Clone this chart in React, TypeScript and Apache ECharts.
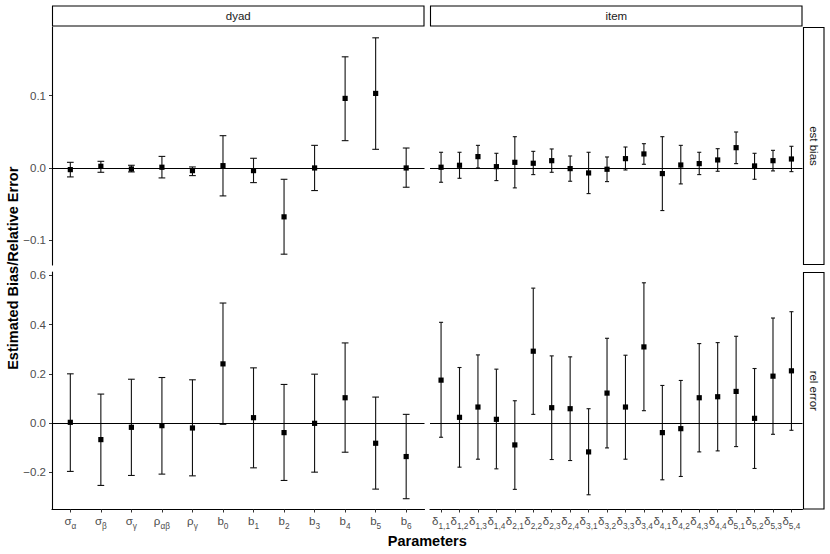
import React, { useEffect, useRef } from "react";
import * as echarts from "echarts";

// ---------- data ----------
const facetCols = ["dyad", "item"];
const facetRows = ["est bias", "rel error"];

const dyadLabels: [string, string][] = [
  ["σ", "α"], ["σ", "β"], ["σ", "γ"], ["ρ", "αβ"], ["ρ", "γ"],
  ["b", "0"], ["b", "1"], ["b", "2"], ["b", "3"], ["b", "4"], ["b", "5"], ["b", "6"],
];
const itemLabels: [string, string][] = [
  ["δ", "1,1"], ["δ", "1,2"], ["δ", "1,3"], ["δ", "1,4"],
  ["δ", "2,1"], ["δ", "2,2"], ["δ", "2,3"], ["δ", "2,4"],
  ["δ", "3,1"], ["δ", "3,2"], ["δ", "3,3"], ["δ", "3,4"],
  ["δ", "4,1"], ["δ", "4,2"], ["δ", "4,3"], ["δ", "4,4"],
  ["δ", "5,1"], ["δ", "5,2"], ["δ", "5,3"], ["δ", "5,4"],
];

// est bias, dyad
const dyadBiasEst = [-0.0023, 0.0023, -0.0014, 0.001, -0.0037, 0.0032, -0.0037, -0.0677, 0.0, 0.0963, 0.1032, 0.0];
const dyadBiasLo = [-0.0124, -0.006, -0.0055, -0.0138, -0.0106, -0.0387, -0.0203, -0.1194, -0.0313, 0.0378, 0.0258, -0.0267];
const dyadBiasHi = [0.0078, 0.0092, 0.0037, 0.016, 0.0014, 0.0447, 0.0134, -0.0157, 0.0313, 0.1539, 0.1802, 0.0276];

// est bias, item
const itemBiasEst = [0.001, 0.0037, 0.0157, 0.0018, 0.0078, 0.0065, 0.0101, -0.0009, -0.0069, -0.0018, 0.0129, 0.0194, -0.0078, 0.0041, 0.006, 0.0111, 0.0281, 0.0028, 0.0101, 0.0124];
const itemBiasLo = [-0.0198, -0.0143, 0.0, -0.0175, -0.0276, -0.0092, -0.006, -0.0184, -0.0355, -0.0189, -0.0028, 0.0051, -0.059, -0.0221, -0.0092, -0.0046, 0.006, -0.0157, -0.0041, -0.0051];
const itemBiasHi = [0.0217, 0.0217, 0.0313, 0.0203, 0.0433, 0.023, 0.0263, 0.0166, 0.0217, 0.0152, 0.029, 0.0336, 0.0433, 0.0313, 0.0217, 0.0267, 0.0498, 0.0203, 0.0244, 0.03];

// rel error, dyad
const dyadRelEst = [0.0027, -0.0676, -0.0176, -0.0108, -0.0203, 0.2405, 0.0216, -0.0392, -0.0014, 0.1027, -0.0824, -0.1365];
const dyadRelLo = [-0.197, -0.254, -0.2135, -0.208, -0.215, -0.0054, -0.1824, -0.2338, -0.2, -0.1189, -0.269, -0.308];
const dyadRelHi = [0.2, 0.1176, 0.178, 0.185, 0.1757, 0.488, 0.2243, 0.1568, 0.1986, 0.3257, 0.1054, 0.0351];

// rel error, item
const itemRelEst = [0.1743, 0.023, 0.0649, 0.0149, -0.0892, 0.292, 0.0622, 0.0581, -0.1176, 0.1216, 0.0649, 0.3095, -0.0392, -0.023, 0.1027, 0.1068, 0.1284, 0.0189, 0.1905, 0.2122];
const itemRelLo = [-0.058, -0.1797, -0.1473, -0.1865, -0.27, 0.0351, -0.1486, -0.1527, -0.292, -0.1014, -0.1473, 0.05, -0.2311, -0.2176, -0.1176, -0.1135, -0.096, -0.185, -0.046, -0.0297];
const itemRelHi = [0.4095, 0.2257, 0.277, 0.219, 0.0905, 0.5486, 0.273, 0.269, 0.0581, 0.3446, 0.2757, 0.5703, 0.1527, 0.173, 0.323, 0.327, 0.3527, 0.2216, 0.427, 0.4527];

const biasTicks = [-0.1, 0, 0.1];
const relTicks = [-0.2, 0, 0.2, 0.4, 0.6];

const yTitle = "Estimated Bias/Relative Error";
const xTitle = "Parameters";

// ---------- layout ----------
const W = 830;
const H = 554;
const colLeft = [52, 430];
const panelW = 372.5;
const rowTop = [27, 272];
const rowH = [238, 237.5];
const stripTop = 6;
const stripH = 20;
const stripRightX = 803.5;
const stripRightW = 20.5;

const FONT = "'Liberation Sans', Arial, Helvetica, sans-serif";
const TICK_COLOR = "#4d4d4d";

function fmtY(v: number) {
  const s = Math.abs(v).toFixed(1);
  return v < -1e-9 ? "\u2212" + s : s;
}

function expandRange(los: number[], his: number[]): [number, number] {
  const lo = Math.min(...los);
  const hi = Math.max(...his);
  const pad = (hi - lo) * 0.05;
  return [lo - pad, hi + pad];
}

export default function App() {
  const ref = useRef<HTMLDivElement>(null);

  useEffect(() => {
    if (!ref.current) return;
    const chart = echarts.init(ref.current, undefined, { renderer: "svg" });

    const labelsByCol = [dyadLabels, itemLabels];
    const panelData = [
      [
        { est: dyadBiasEst, lo: dyadBiasLo, hi: dyadBiasHi },
        { est: itemBiasEst, lo: itemBiasLo, hi: itemBiasHi },
      ],
      [
        { est: dyadRelEst, lo: dyadRelLo, hi: dyadRelHi },
        { est: itemRelEst, lo: itemRelLo, hi: itemRelHi },
      ],
    ];
    const yRanges = [
      expandRange([...dyadBiasLo, ...itemBiasLo], [...dyadBiasHi, ...itemBiasHi]),
      expandRange([...dyadRelLo, ...itemRelLo], [...dyadRelHi, ...itemRelHi]),
    ];
    const yTicks = [biasTicks, relTicks];

    const grids: any[] = [];
    const xAxes: any[] = [];
    const yAxes: any[] = [];
    const series: any[] = [];

    for (let r = 0; r < 2; r++) {
      for (let c = 0; c < 2; c++) {
        const idx = grids.length;
        const labels = labelsByCol[c];
        const n = labels.length;
        grids.push({ left: colLeft[c], top: rowTop[r], width: panelW, height: rowH[r], containLabel: false });
        const showX = r === 1;
        const showY = c === 0;
        xAxes.push({
          type: "value",
          gridIndex: idx,
          min: -0.6,
          max: n - 1 + 0.6,
          splitLine: { show: false },
          axisLine: { show: showX, onZero: false, lineStyle: { color: "#000", width: 1.1 } },
          axisTick: {
            show: showX,
            length: 3,
            customValues: labels.map((_, i) => i),
            lineStyle: { color: "#333", width: 1 },
          },
          axisLabel: {
            show: showX,
            margin: 5,
            customValues: labels.map((_, i) => i),
            formatter: (v: number) => {
              const l = labels[Math.round(v)];
              return l ? `{m|${l[0]}}{s|${l[1]}}` : "";
            },
            rich: {
              m: { fontSize: 11.5, fontFamily: FONT, color: TICK_COLOR, verticalAlign: "bottom", padding: [0, 0, 3, 0] },
              s: { fontSize: 8.3, fontFamily: FONT, color: TICK_COLOR, verticalAlign: "bottom" },
            },
          },
        });
        yAxes.push({
          type: "value",
          gridIndex: idx,
          min: yRanges[r][0],
          max: yRanges[r][1],
          splitLine: { show: false },
          axisLine: { show: showY, onZero: false, lineStyle: { color: "#000", width: 1.1 } },
          axisTick: {
            show: showY,
            length: 3,
            customValues: yTicks[r],
            lineStyle: { color: "#333", width: 1 },
          },
          axisLabel: {
            show: showY,
            margin: 6,
            customValues: yTicks[r],
            formatter: (v: number) => fmtY(v),
            fontSize: 11.5,
            fontFamily: FONT,
            color: TICK_COLOR,
          },
        });
        const d = panelData[r][c];
        series.push({
          type: "custom",
          xAxisIndex: idx,
          yAxisIndex: idx,
          data: d.est.map((e, i) => [i, e, d.lo[i], d.hi[i]]),
          encode: { x: 0, y: [1, 2, 3] },
          renderItem: (params: any, api: any) => {
            const x = api.value(0);
            const pE = api.coord([x, api.value(1)]);
            const pL = api.coord([x, api.value(2)]);
            const pH = api.coord([x, api.value(3)]);
            const hw = api.size([0.11, 0])[0];
            const ls = { stroke: "#111", lineWidth: 1.1 };
            return {
              type: "group",
              children: [
                { type: "line", shape: { x1: pL[0], y1: pL[1], x2: pH[0], y2: pH[1] }, style: ls },
                { type: "line", shape: { x1: pL[0] - hw, y1: pL[1], x2: pL[0] + hw, y2: pL[1] }, style: ls },
                { type: "line", shape: { x1: pH[0] - hw, y1: pH[1], x2: pH[0] + hw, y2: pH[1] }, style: ls },
                { type: "rect", shape: { x: pE[0] - 2.6, y: pE[1] - 2.6, width: 5.2, height: 5.2 }, style: { fill: "#000" } },
              ],
            };
          },
          markLine: {
            silent: true,
            symbol: ["none", "none"],
            label: { show: false },
            lineStyle: { color: "#000", width: 1.1, type: "solid" },
            data: [{ yAxis: 0 }],
          },
        });
      }
    }

    const textStyle = (text: string, size: number, color: string, weight: any = "normal") => ({
      text,
      x: 0,
      y: 0,
      fontSize: size,
      fontFamily: FONT,
      fontWeight: weight,
      fill: color,
      align: "center",
      verticalAlign: "middle",
      textAlign: "center",
      textVerticalAlign: "middle",
    });

    const graphic: any[] = [];
    for (let c = 0; c < 2; c++) {
      graphic.push({
        type: "rect",
        shape: { x: colLeft[c] + 0.5, y: stripTop, width: panelW - 1, height: stripH },
        style: { fill: "#fff", stroke: "#000", lineWidth: 1.1 },
      });
      graphic.push({
        type: "text",
        x: colLeft[c] + panelW / 2,
        y: stripTop + stripH / 2,
        style: textStyle(facetCols[c], 11.5, "#1a1a1a"),
      });
    }
    for (let r = 0; r < 2; r++) {
      graphic.push({
        type: "rect",
        shape: { x: stripRightX, y: rowTop[r] + 0.5, width: stripRightW, height: rowH[r] - 1 },
        style: { fill: "#fff", stroke: "#000", lineWidth: 1.1 },
      });
      graphic.push({
        type: "text",
        x: stripRightX + stripRightW / 2,
        y: rowTop[r] + rowH[r] / 2,
        rotation: -Math.PI / 2,
        style: textStyle(facetRows[r], 11.5, "#1a1a1a"),
      });
    }
    graphic.push({
      type: "text",
      x: 13,
      y: (rowTop[0] + rowTop[1] + rowH[1]) / 2,
      rotation: Math.PI / 2,
      style: textStyle(yTitle, 14.5, "#000", "bold"),
    });
    graphic.push({
      type: "text",
      x: (colLeft[0] + colLeft[1] + panelW) / 2,
      y: 540.5,
      style: textStyle(xTitle, 14.5, "#000", "bold"),
    });

    chart.setOption({
      animation: false,
      backgroundColor: "#fff",
      grid: grids,
      xAxis: xAxes,
      yAxis: yAxes,
      series,
      graphic,
    });

    return () => chart.dispose();
  }, []);

  return (
    <div
      ref={ref}
      style={{ position: "fixed", left: 0, top: 0, width: W, height: H }}
    />
  );
}
